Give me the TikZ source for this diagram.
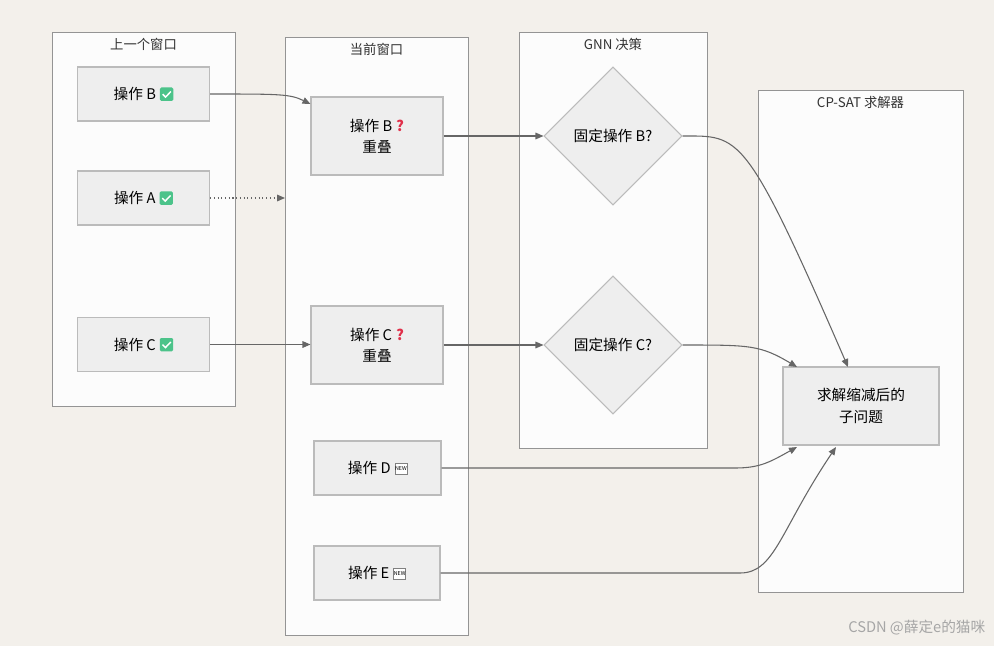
\documentclass[tikz,border=0pt]{standalone}
\usepackage{fontspec}
\setmainfont{Noto Sans CJK SC}
\usetikzlibrary{shapes.geometric,arrows.meta}
\definecolor{bg}{HTML}{F3F0EB}
\definecolor{cont}{HTML}{FCFCFC}
\definecolor{nodef}{HTML}{EEEEEE}
\definecolor{nodes}{HTML}{BBBBBB}
\definecolor{edge}{HTML}{666666}
\definecolor{ok}{HTML}{4CC38A}
\newcommand{\okmark}{\hspace{3pt}\tikz[baseline=-1pt]{\fill[ok,rounded corners=1pt](0,-2pt) rectangle (10pt,8pt);\draw[white,line width=1.1pt](2pt,3pt)--(4.2pt,0.8pt)--(8.2pt,5pt);}}
\newcommand{\qmark}{\hspace{3pt}\textcolor[HTML]{E0304A}{\textbf{?}}}
\newcommand{\newmark}{\hspace{3pt}\tikz[baseline=-1pt]{\draw[gray,fill=white](0,-1.5pt) rectangle (9pt,7pt);\node[font=\fontsize{4}{4}\selectfont,inner sep=0pt,minimum width=0pt,minimum height=0pt,draw=none,fill=none] at (4.5pt,2.75pt){NEW};}}
\begin{document}
\begin{tikzpicture}[x=0.75pt,y=-0.75pt,
  box/.style={draw=edge!70,fill=cont,line width=0.6pt},
  ttl/.style={font=\fontsize{10}{12}\selectfont,text=black!80,anchor=north},
  op/.style={draw=nodes,fill=nodef,line width=0.8pt,minimum width=132*0.75pt,minimum height=54*0.75pt,font=\fontsize{11}{16}\selectfont,align=center,inner sep=1pt},
  dia/.style={diamond,draw=nodes,fill=nodef,line width=0.8pt,minimum width=138*0.75pt,minimum height=138*0.75pt,font=\fontsize{11}{13}\selectfont,inner sep=0pt},
  arr/.style={draw=edge,line width=0.8pt,-{Triangle[length=6pt,width=5pt]}}]
\fill[bg] (0,0) rectangle (994,646);
\draw[box] (52,32) rectangle (235,406);
\node[ttl] at (143.5,34) {上一个窗口};
\draw[box] (285,37) rectangle (468,635);
\node[ttl] at (376.5,39) {当前窗口};
\draw[box] (519,32) rectangle (707,448);
\node[ttl] at (613,34) {GNN 决策};
\draw[box] (758,90) rectangle (963,592);
\node[ttl] at (860.5,92) {CP-SAT 求解器};
\coordinate (cw) at (285,198);

\node[op] (b1) at (143.5,94) {操作 B\okmark};
\node[op] (a1) at (143.5,198) {操作 A\okmark};
\node[op] (c1) at (143.5,344.5) {操作 C\okmark};
\node[op,minimum height=78*0.75pt] (b2) at (377,136) {操作 B\qmark\\重叠};
\node[op,minimum height=78*0.75pt] (c2) at (377,345) {操作 C\qmark\\重叠};
\node[op,minimum width=127*0.75pt] (d) at (377.5,468) {操作 D\newmark};
\node[op,minimum width=126*0.75pt] (e) at (377,573) {操作 E\newmark};
\node[dia] (db) at (613,136) {固定操作 B?};
\node[dia] (dc) at (613,345) {固定操作 C?};
\node[op,minimum width=156*0.75pt,minimum height=78*0.75pt] (s) at (861,406) {求解缩减后的\\子问题};

\draw[arr] (b1.east) .. controls (280,94) and (290,94) .. (b2.west |- 0,104);
\draw[arr,dotted] (a1.east) -- (cw);
\draw[arr] (c1.east) -- (c1.east -| c2.west);
\draw[arr] (b2.east) -- (db.west);
\draw[arr] (c2.east) -- (dc.west);
\draw[arr] (db.east) .. controls (740,136) and (745,130) .. (848,367);
\draw[arr] (dc.east) .. controls (750,345) and (760,345) .. (797,367);
\draw[arr] (d.east) -- (735,468) .. controls (760,468) and (770,462) .. (797,447);
\draw[arr] (e.east) -- (740,573) .. controls (775,573) and (780,530) .. (836,447);
\node[font=\fontsize{11}{12}\selectfont,text=black!35,anchor=east] (wm) at (990,628) {CSDN @薛定e的猫咪};
\end{tikzpicture}
\end{document}
